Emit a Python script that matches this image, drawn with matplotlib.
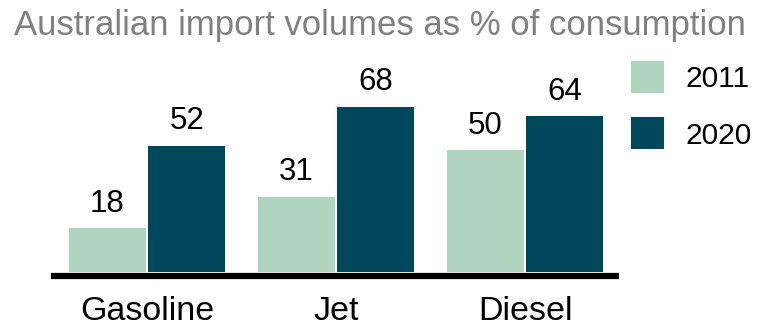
import matplotlib
matplotlib.use("Agg")
import matplotlib.pyplot as plt
import numpy as np

plt.rcParams['font.family'] = ['Liberation Sans', 'DejaVu Sans']

categories = ["Gasoline", "Jet", "Diesel"]
years = ["2011", "2020"]
values_2011 = [18, 31, 50]
values_2020 = [52, 68, 64]
colors = ["#afd5c0", "#00475c"]
title = "Australian import volumes as % of consumption"

W, H = 759, 327
fig = plt.figure(figsize=(W / 100, H / 100), dpi=100)

# axes in pixel layout
left_px, right_px = 51, 619
bottom_px, top_px = 275.5, 40
ax = fig.add_axes([left_px / W, 1 - bottom_px / H,
                   (right_px - left_px) / W, (bottom_px - top_px) / H])

x = np.arange(len(categories))
w = 0.405
off = 0.21
b1 = ax.bar(x - off, values_2011, w, color=colors[0], label=years[0])
b2 = ax.bar(x + off, values_2020, w, color=colors[1], label=years[1])

ax.bar_label(b1, padding=7, fontsize=22.5, color="black")
ax.bar_label(b2, padding=7, fontsize=22.5, color="black")

ax.set_xlim(-0.508, 2.497)
ppu = 2.43
ax.set_ylim(-3.5 / ppu, -3.5 / ppu + (bottom_px - top_px) / ppu)

for s in ["top", "right", "left"]:
    ax.spines[s].set_visible(False)
ax.spines["bottom"].set_linewidth(4.5)
ax.spines["bottom"].set_color("black")
ax.spines["bottom"].set_capstyle("butt")
ax.set_yticks([])
ax.set_xticks(x)
ax.set_xticklabels(categories, fontsize=24.5)
ax.tick_params(axis="x", length=0, pad=14.5)

fig.text(14 / W, 1 - 35 / H, title, fontsize=25, color="#808080",
         ha="left", va="baseline")

leg = ax.legend(loc="upper left", bbox_to_anchor=(631 / W, 1 - 61 / H),
                bbox_transform=fig.transFigure, frameon=False,
                fontsize=21.5, handlelength=1.1, handleheight=1.27,
                labelspacing=0.82, handletextpad=0.72, borderpad=0,
                borderaxespad=0)

fig.savefig("out.png", dpi=100)
